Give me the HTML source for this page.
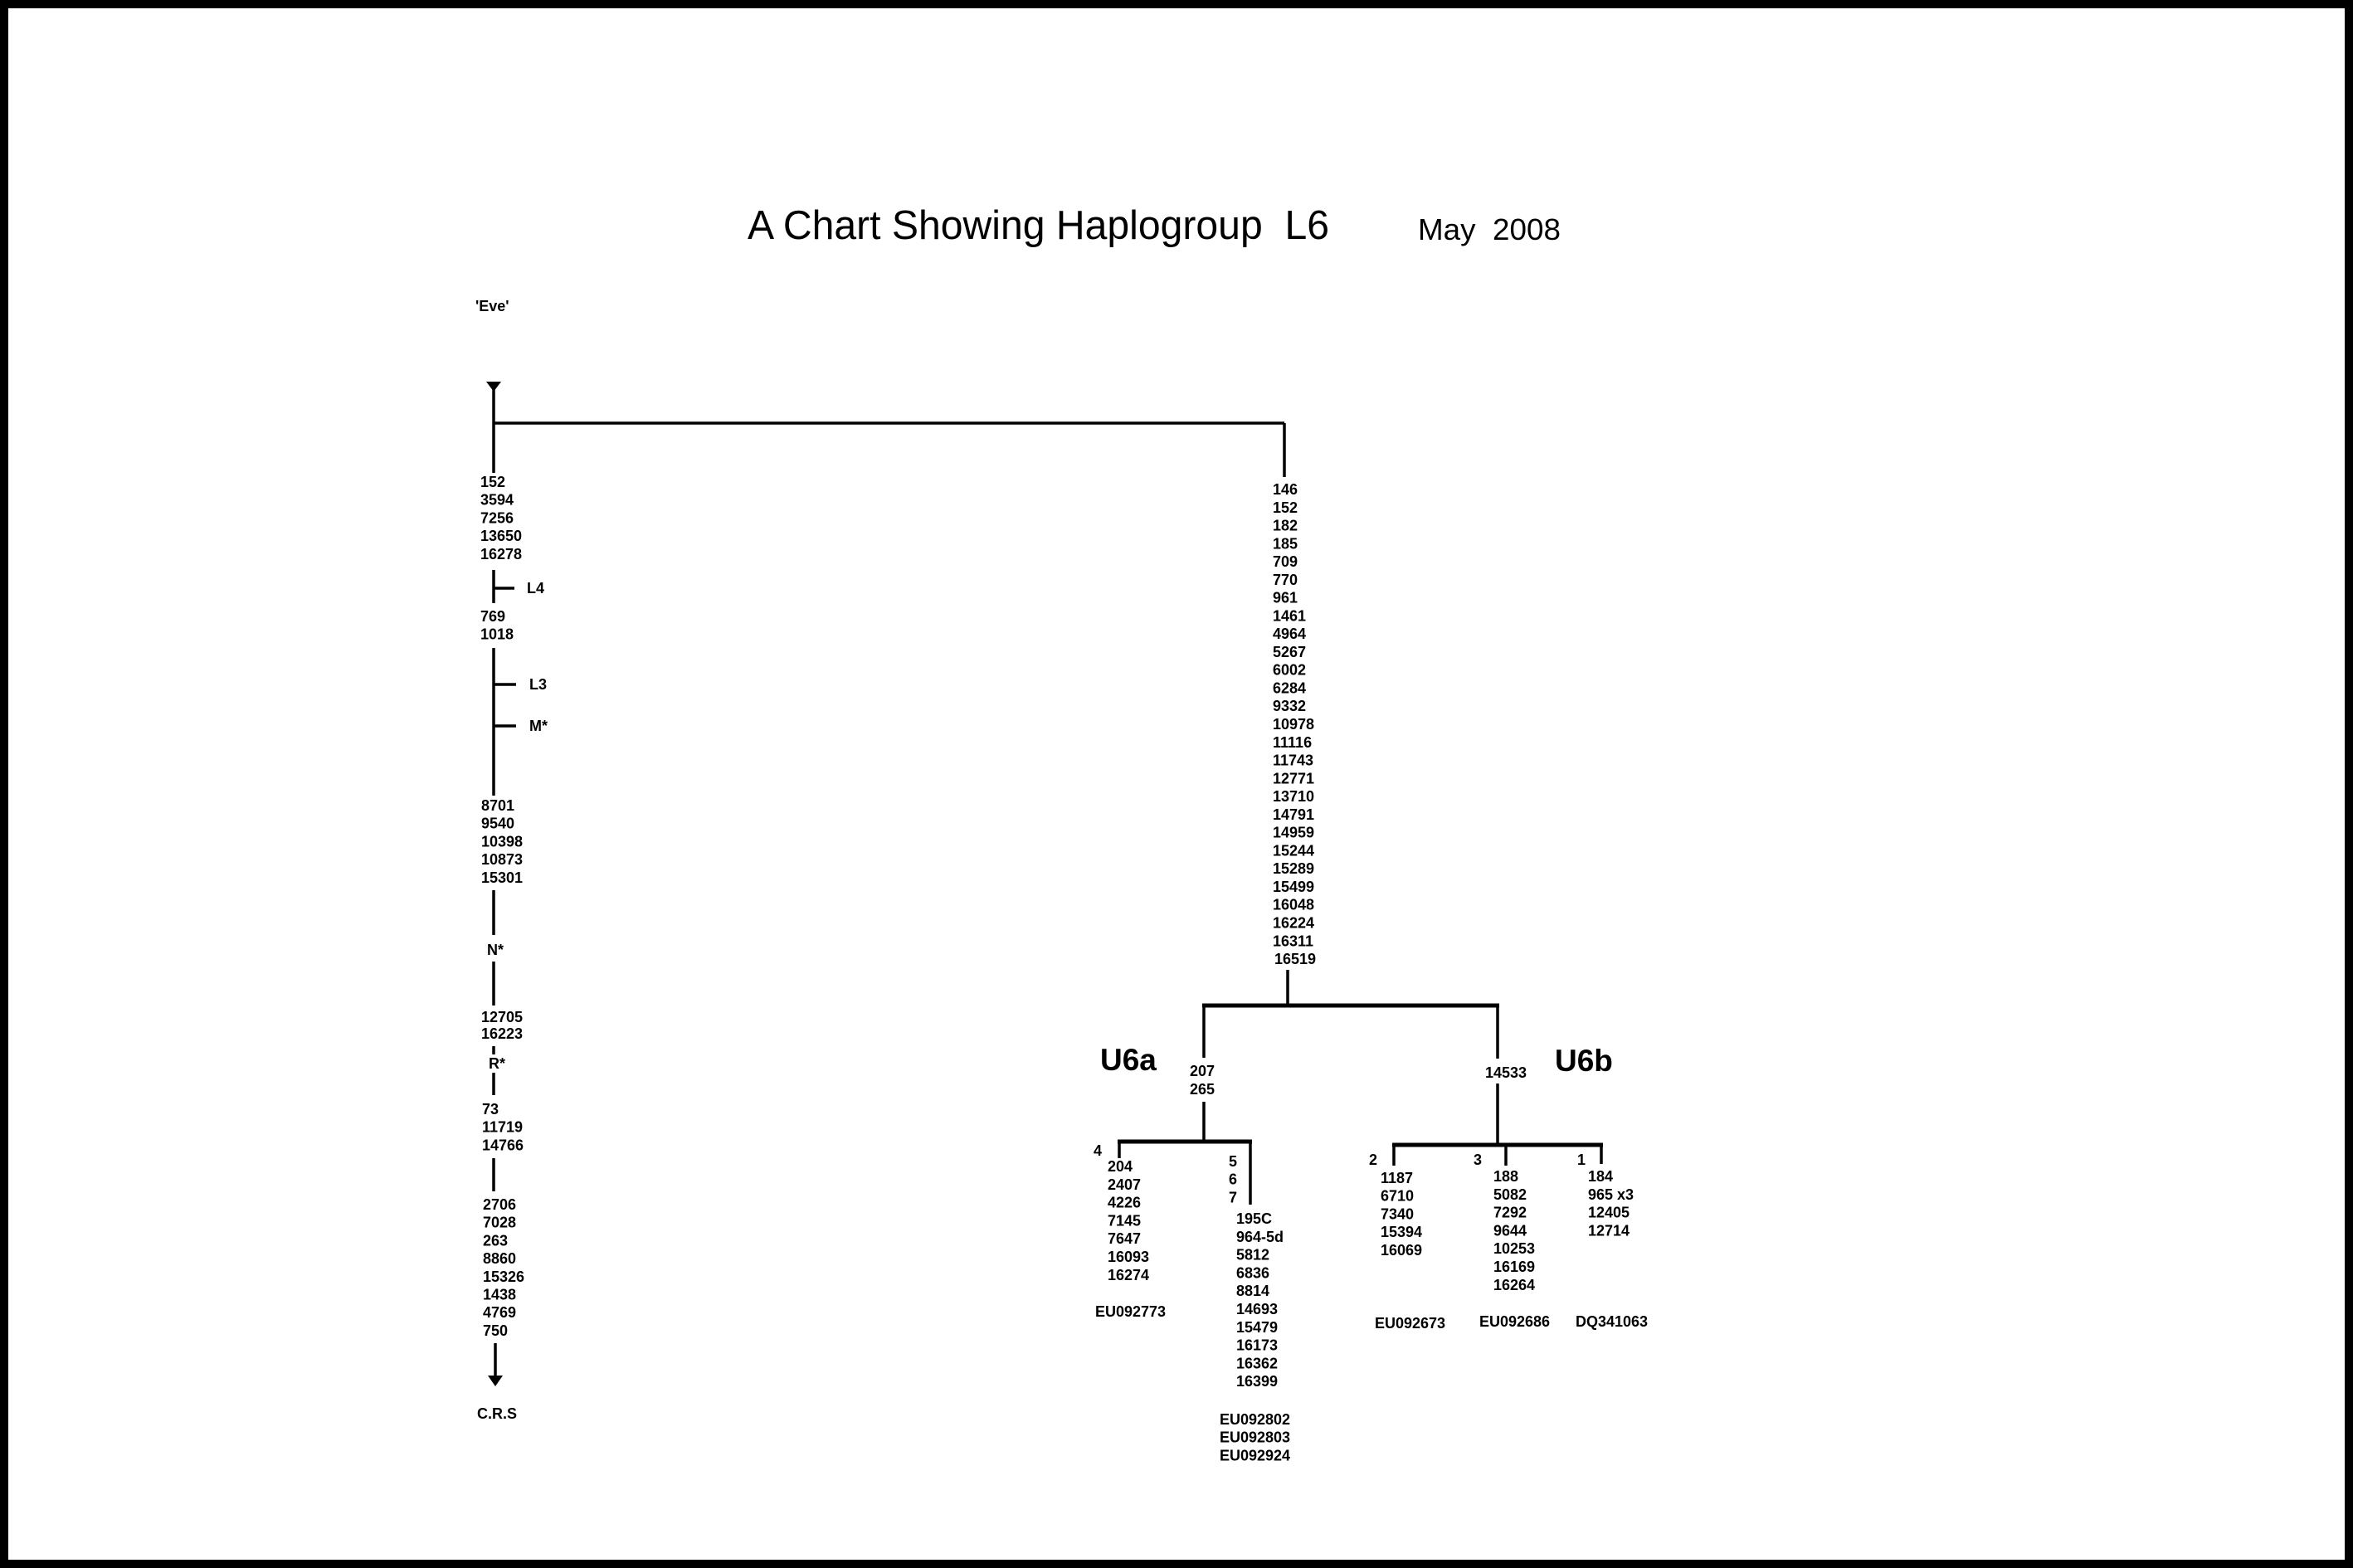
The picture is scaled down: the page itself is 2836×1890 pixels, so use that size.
<!DOCTYPE html>
<html><head><meta charset="utf-8"><style>
html,body{margin:0;padding:0;background:#fff}
svg{display:block}
text{font-family:"Liberation Sans",Arial,sans-serif;fill:#000}
.s{font-size:18px;font-weight:bold}
.b{font-size:37px;font-weight:bold}
</style></head><body>
<svg width="2836" height="1890" viewBox="0 0 2836 1890" xmlns="http://www.w3.org/2000/svg">
<rect x="0" y="0" width="2836" height="1890" fill="#fff"/>
<rect x="5" y="5" width="2826" height="1880" fill="none" stroke="#000" stroke-width="10"/>

<text x="901" y="288" font-size="49" textLength="701" lengthAdjust="spacingAndGlyphs">A Chart Showing Haplogroup&#160;&#160;L6</text>
<text x="1709" y="289" font-size="36" textLength="172" lengthAdjust="spacingAndGlyphs">May&#160;&#160;2008</text>

<g stroke="#000" stroke-width="3.5" fill="none">
<line x1="595" y1="463" x2="595" y2="570"/>
<line x1="595" y1="510" x2="1548" y2="510"/>
<line x1="1548" y1="510" x2="1548" y2="575"/>
<line x1="595" y1="687" x2="595" y2="727"/>
<line x1="595" y1="709" x2="620" y2="709"/>
<line x1="595" y1="781" x2="595" y2="959"/>
<line x1="595" y1="825" x2="622" y2="825"/>
<line x1="595" y1="875" x2="622" y2="875"/>
<line x1="595" y1="1073" x2="595" y2="1127"/>
<line x1="595" y1="1159" x2="595" y2="1212"/>
<line x1="595" y1="1261" x2="595" y2="1271"/>
<line x1="595" y1="1293" x2="595" y2="1320"/>
<line x1="595" y1="1396" x2="595" y2="1436"/>
<line x1="597" y1="1619" x2="597" y2="1660"/>
<line x1="1552" y1="1169" x2="1552" y2="1212"/>
<line x1="1451" y1="1212" x2="1451" y2="1275"/>
<line x1="1805" y1="1212" x2="1805" y2="1276"/>
<line x1="1451" y1="1328" x2="1451" y2="1376"/>
<line x1="1349" y1="1376" x2="1349" y2="1396"/>
<line x1="1507" y1="1376" x2="1507" y2="1452"/>
<line x1="1805" y1="1306" x2="1805" y2="1380"/>
<line x1="1680" y1="1380" x2="1680" y2="1405"/>
<line x1="1815" y1="1380" x2="1815" y2="1405"/>
<line x1="1930" y1="1380" x2="1930" y2="1403"/>
</g>
<g stroke="#000" stroke-width="5" fill="none">
<line x1="1449" y1="1212" x2="1807" y2="1212"/>
<line x1="1347" y1="1376" x2="1509" y2="1376"/>
<line x1="1678" y1="1380" x2="1932" y2="1380"/>
</g>
<polygon points="586,460 604,460 595,472" fill="#000"/>
<polygon points="588,1658 606,1658 597,1671" fill="#000"/>

<text class="s" x="573" y="375">'Eve'</text>
<text class="s" x="579" y="587"><tspan x="579">152</tspan><tspan x="579" dy="21.7">3594</tspan><tspan x="579" dy="21.7">7256</tspan><tspan x="579" dy="21.7">13650</tspan><tspan x="579" dy="21.7">16278</tspan></text>
<text class="s" x="635" y="715">L4</text>
<text class="s" x="579" y="749"><tspan x="579">769</tspan><tspan x="579" dy="21.7">1018</tspan></text>
<text class="s" x="638" y="831">L3</text>
<text class="s" x="638" y="881">M*</text>
<text class="s" x="580" y="977"><tspan x="580">8701</tspan><tspan x="580" dy="21.7">9540</tspan><tspan x="580" dy="21.7">10398</tspan><tspan x="580" dy="21.7">10873</tspan><tspan x="580" dy="21.7">15301</tspan></text>
<text class="s" x="587" y="1151">N*</text>
<text class="s" x="580" y="1232"><tspan x="580">12705</tspan><tspan x="580" dy="20">16223</tspan></text>
<text class="s" x="589" y="1288">R*</text>
<text class="s" x="581" y="1343"><tspan x="581">73</tspan><tspan x="581" dy="21.7">11719</tspan><tspan x="581" dy="21.7">14766</tspan></text>
<text class="s" x="582" y="1458"><tspan x="582">2706</tspan><tspan x="582" dy="21.7">7028</tspan><tspan x="582" dy="21.7">263</tspan><tspan x="582" dy="21.7">8860</tspan><tspan x="582" dy="21.7">15326</tspan><tspan x="582" dy="21.7">1438</tspan><tspan x="582" dy="21.7">4769</tspan><tspan x="582" dy="21.7">750</tspan></text>
<text class="s" x="575" y="1710">C.R.S</text>

<text class="s" x="1534" y="596"><tspan x="1534">146</tspan><tspan x="1534" dy="21.77">152</tspan><tspan x="1534" dy="21.77">182</tspan><tspan x="1534" dy="21.77">185</tspan><tspan x="1534" dy="21.77">709</tspan><tspan x="1534" dy="21.77">770</tspan><tspan x="1534" dy="21.77">961</tspan><tspan x="1534" dy="21.77">1461</tspan><tspan x="1534" dy="21.77">4964</tspan><tspan x="1534" dy="21.77">5267</tspan><tspan x="1534" dy="21.77">6002</tspan><tspan x="1534" dy="21.77">6284</tspan><tspan x="1534" dy="21.77">9332</tspan><tspan x="1534" dy="21.77">10978</tspan><tspan x="1534" dy="21.77">11116</tspan><tspan x="1534" dy="21.77">11743</tspan><tspan x="1534" dy="21.77">12771</tspan><tspan x="1534" dy="21.77">13710</tspan><tspan x="1534" dy="21.77">14791</tspan><tspan x="1534" dy="21.77">14959</tspan><tspan x="1534" dy="21.77">15244</tspan><tspan x="1534" dy="21.77">15289</tspan><tspan x="1534" dy="21.77">15499</tspan><tspan x="1534" dy="21.77">16048</tspan><tspan x="1534" dy="21.77">16224</tspan><tspan x="1534" dy="21.77">16311</tspan><tspan x="1536" dy="21.77">16519</tspan></text>

<text class="b" x="1326" y="1290">U6a</text>
<text class="b" x="1874" y="1291">U6b</text>
<text class="s" x="1434" y="1297"><tspan x="1434">207</tspan><tspan x="1434" dy="22">265</tspan></text>
<text class="s" x="1790" y="1299">14533</text>

<text class="s" x="1318" y="1393">4</text>
<text class="s" x="1335" y="1412"><tspan x="1335">204</tspan><tspan x="1335" dy="21.8">2407</tspan><tspan x="1335" dy="21.8">4226</tspan><tspan x="1335" dy="21.8">7145</tspan><tspan x="1335" dy="21.8">7647</tspan><tspan x="1335" dy="21.8">16093</tspan><tspan x="1335" dy="21.8">16274</tspan></text>
<text class="s" x="1320" y="1587">EU092773</text>
<text class="s" x="1481" y="1406"><tspan x="1481">5</tspan><tspan x="1481" dy="21.7">6</tspan><tspan x="1481" dy="21.7">7</tspan></text>
<text class="s" x="1490" y="1475"><tspan x="1490">195C</tspan><tspan x="1490" dy="21.8">964-5d</tspan><tspan x="1490" dy="21.8">5812</tspan><tspan x="1490" dy="21.8">6836</tspan><tspan x="1490" dy="21.8">8814</tspan><tspan x="1490" dy="21.8">14693</tspan><tspan x="1490" dy="21.8">15479</tspan><tspan x="1490" dy="21.8">16173</tspan><tspan x="1490" dy="21.8">16362</tspan><tspan x="1490" dy="21.8">16399</tspan></text>
<text class="s" x="1470" y="1717"><tspan x="1470">EU092802</tspan><tspan x="1470" dy="21.7">EU092803</tspan><tspan x="1470" dy="21.7">EU092924</tspan></text>

<text class="s" x="1650" y="1404">2</text>
<text class="s" x="1664" y="1426"><tspan x="1664">1187</tspan><tspan x="1664" dy="21.7">6710</tspan><tspan x="1664" dy="21.7">7340</tspan><tspan x="1664" dy="21.7">15394</tspan><tspan x="1664" dy="21.7">16069</tspan></text>
<text class="s" x="1776" y="1404">3</text>
<text class="s" x="1800" y="1424"><tspan x="1800">188</tspan><tspan x="1800" dy="21.8">5082</tspan><tspan x="1800" dy="21.8">7292</tspan><tspan x="1800" dy="21.8">9644</tspan><tspan x="1800" dy="21.8">10253</tspan><tspan x="1800" dy="21.8">16169</tspan><tspan x="1800" dy="21.8">16264</tspan></text>
<text class="s" x="1901" y="1404">1</text>
<text class="s" x="1914" y="1424"><tspan x="1914">184</tspan><tspan x="1914" dy="21.8">965 x3</tspan><tspan x="1914" dy="21.8">12405</tspan><tspan x="1914" dy="21.8">12714</tspan></text>
<text class="s" x="1657" y="1601">EU092673</text>
<text class="s" x="1783" y="1599">EU092686</text>
<text class="s" x="1899" y="1599">DQ341063</text>
</svg>
</body></html>
